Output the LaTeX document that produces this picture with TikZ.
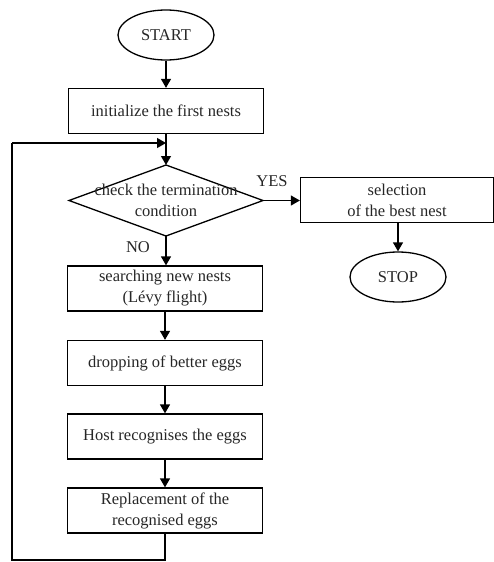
\documentclass[tikz,border=0pt]{standalone}
\usepackage{fontspec}
\setmainfont{Liberation Serif}
\usetikzlibrary{shapes.geometric,arrows.meta}
\begin{document}
\begin{tikzpicture}[x=1pt,y=-1pt,
  every node/.style={font=\fontsize{16.5}{21}\selectfont, text=black!85},
  boxnode/.style={draw, line width=1.3pt, minimum width=195pt, minimum height=45pt, inner sep=0pt, align=center},
  ovalnode/.style={draw, ellipse, line width=1.3pt, minimum width=96pt, minimum height=50pt, inner sep=0pt},
  decnode/.style={draw, diamond, line width=1.3pt, inner sep=0pt},
  conn/.style={line width=1.3pt, -{Triangle[length=9pt,width=10pt]}},
  plainline/.style={line width=1.3pt}]
\useasboundingbox (0,0) rectangle (494,562);
\node[ovalnode] (start) at (166,35) {START};
\node[boxnode] (init) at (166,111) {initialize the first nests};
\coordinate (join) at (166,143);
\coordinate (dN) at (166,165);
\coordinate (dE) at (263,200.5);
\coordinate (dS) at (166,236);
\coordinate (dW) at (69,200.5);
\draw[plainline] (dN) -- (dE) -- (dS) -- (dW) -- cycle;
\node[align=center] (check) at (166,200.5) {check the termination\\condition};
\node[boxnode, minimum width=193pt] (sel) at (397,200) {selection\\of the best nest};
\node[ovalnode] (stop) at (398,277) {STOP};
\node[boxnode] (search) at (165,288.5) {searching new nests\\(Lévy flight)};
\node[boxnode] (drop) at (165,363) {dropping of better eggs};
\node[boxnode] (host) at (165,436.5) {Host recognises the eggs};
\node[boxnode] (repl) at (165,510.5) {Replacement of the\\recognised eggs};
\coordinate (c1) at (165,560);
\coordinate (c2) at (12,560);
\coordinate (c3) at (12,143);
\node (yes) at (272,181) {YES};
\node (no) at (138,247) {NO};

\draw[conn] (start) -- (init);
\draw[plainline] (init) -- (join);
\draw[conn] (join) -- (dN);
\draw[conn] (dE) -- (dE -| sel.west);
\draw[conn] (sel.south -| stop) -- (stop);
\draw[conn] (dS) -- (search.north -| dS);
\draw[conn] (search) -- (drop);
\draw[conn] (drop) -- (host);
\draw[conn] (host) -- (repl);
\draw[plainline] (repl.south) -- (c1) -- (c2) -- (c3);
\draw[conn] (c3) -- (join);
\end{tikzpicture}
\end{document}
